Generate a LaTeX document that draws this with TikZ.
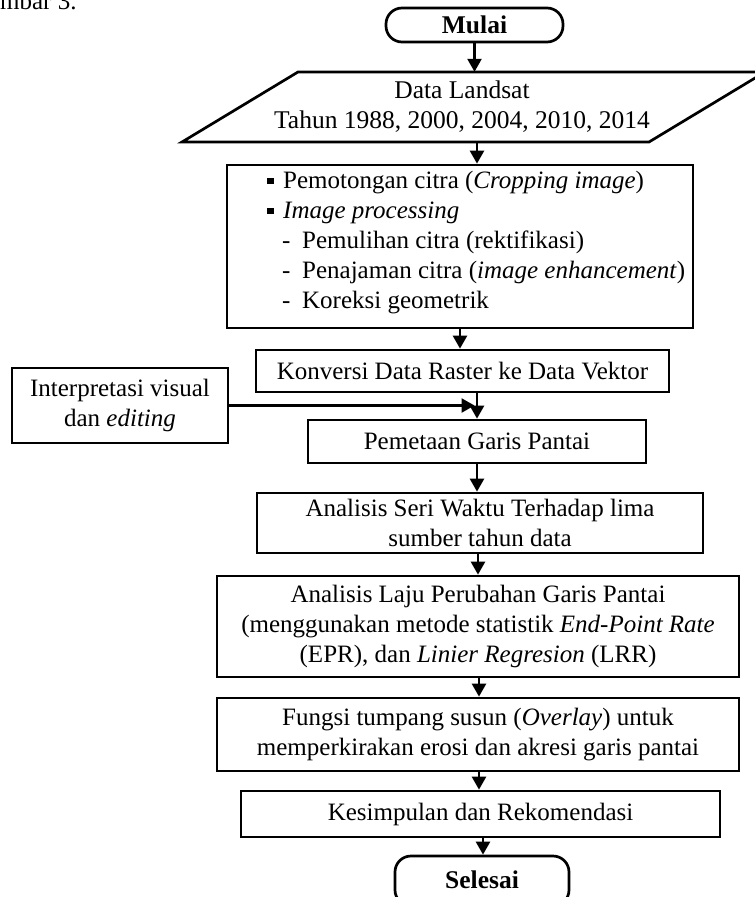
\documentclass[tikz,border=0pt]{standalone}
\usepackage{fontspec}
\setmainfont{Liberation Serif}
\usetikzlibrary{arrows.meta}
\begin{document}
\begin{tikzpicture}[x=1pt,y=-1pt,
  every node/.style={font=\fontsize{25}{30}\selectfont, inner sep=0pt, align=center},
  box/.style={draw, line width=2.7pt, rectangle},
  term/.style={draw, line width=2.7pt, rectangle, rounded corners=16pt,
               font=\fontsize{25.5}{30}\selectfont\bfseries},
  flow/.style={line width=2.5pt, -{Triangle[length=13pt,width=14pt]}},
  item/.style={anchor=base west, align=left},
]
\useasboundingbox (0,0) rectangle (755,897);
\clip (0,0) rectangle (755,897);

% caption fragment at the top
\node[anchor=base west] (cap) at (0,9) {mbar 3.};

% start
\node[term, minimum width=177pt, minimum height=34pt] (mulai) at (474.5,25) {Mulai};

% input data (parallelogram)
\draw[line width=2.7pt, line join=miter] (298,72) -- (765,72) -- (649,142) -- (182,142) -- cycle;
\node[minimum height=70pt, font=\fontsize{25.5}{30}\selectfont] (data) at (462,107) {Data Landsat\\Tahun 1988, 2000, 2004, 2010, 2014};

% preprocessing
\node[box, minimum width=466pt, minimum height=163pt] (proc) at (460,246.5) {};
\node[item] (p1) at (267,188) {\makebox[16pt][l]{\rule[4pt]{6.5pt}{6.5pt}}Pemotongan citra (\textit{Cropping image})};
\node[item] (p2) at (267,218) {\makebox[16pt][l]{\rule[4pt]{6.5pt}{6.5pt}}\textit{Image processing}};
\node[item] (p3) at (267,248) {\hspace{15pt}\makebox[20pt][l]{-}Pemulihan citra (rektifikasi)};
\node[item] (p4) at (267,278) {\hspace{15pt}\makebox[20pt][l]{-}Penajaman citra (\textit{image enhancement})};
\node[item] (p5) at (267,308) {\hspace{15pt}\makebox[20pt][l]{-}Koreksi geometrik};

% processing chain
\node[box, minimum width=413pt, minimum height=42pt] (konv) at (462.5,371) {Konversi Data Raster ke Data Vektor};
\node[box, minimum width=216pt, minimum height=75pt] (interp) at (120,405.5) {Interpretasi visual\\dan \textit{editing}};
\node[box, minimum width=338pt, minimum height=43pt] (pem) at (477,441.5) {Pemetaan Garis Pantai};
\node[box, minimum width=446pt, minimum height=60pt] (seri) at (480,523) {Analisis Seri Waktu Terhadap lima\\sumber tahun data};
\node[box, minimum width=522pt, minimum height=101pt] (laju) at (478,626.5) {Analisis Laju Perubahan Garis Pantai\\(menggunakan metode statistik \textit{End-Point Rate}\\(EPR), dan \textit{Linier Regresion} (LRR)};
\node[box, minimum width=522pt, minimum height=73pt] (fungsi) at (478,734.5) {Fungsi tumpang susun (\textit{Overlay}) untuk\\memperkirakan erosi dan akresi garis pantai};
\node[box, minimum width=479pt, minimum height=46pt] (kes) at (480.5,814) {Kesimpulan dan Rekomendasi};

% end (runs past the lower edge)
\node[term, minimum width=174pt, minimum height=50pt] (selesai) at (482,881) {\raisebox{3pt}{Selesai}};

% connectors
\draw[flow] (mulai.south) -- (mulai.south |- data.north);
\draw[flow] ([xshift=15pt]data.south) -- ([xshift=15pt]data.south |- proc.north);
\draw[flow] (proc.south) -- (proc.south |- konv.north);
\draw[line width=2.5pt] (konv.south -| pem.north) -- (interp.east -| pem.north);
\draw[flow] (interp.east -| pem.north) -- (pem.north);
\draw[flow, shorten >=2.5pt] (interp.east) -- (interp.east -| pem.north);
\draw[flow] (pem.south) -- (pem.south |- seri.north);
\draw[flow] ([xshift=-2pt]seri.south) -- ([xshift=-2pt]seri.south |- laju.north);
\draw[flow] ([xshift=1pt]laju.south) -- ([xshift=1pt]laju.south |- fungsi.north);
\draw[flow] ([xshift=1pt]fungsi.south) -- ([xshift=1pt]fungsi.south |- kes.north);
\draw[flow] ([xshift=2.5pt]kes.south) -- ([xshift=2.5pt]kes.south |- selesai.north);
\end{tikzpicture}
\end{document}
